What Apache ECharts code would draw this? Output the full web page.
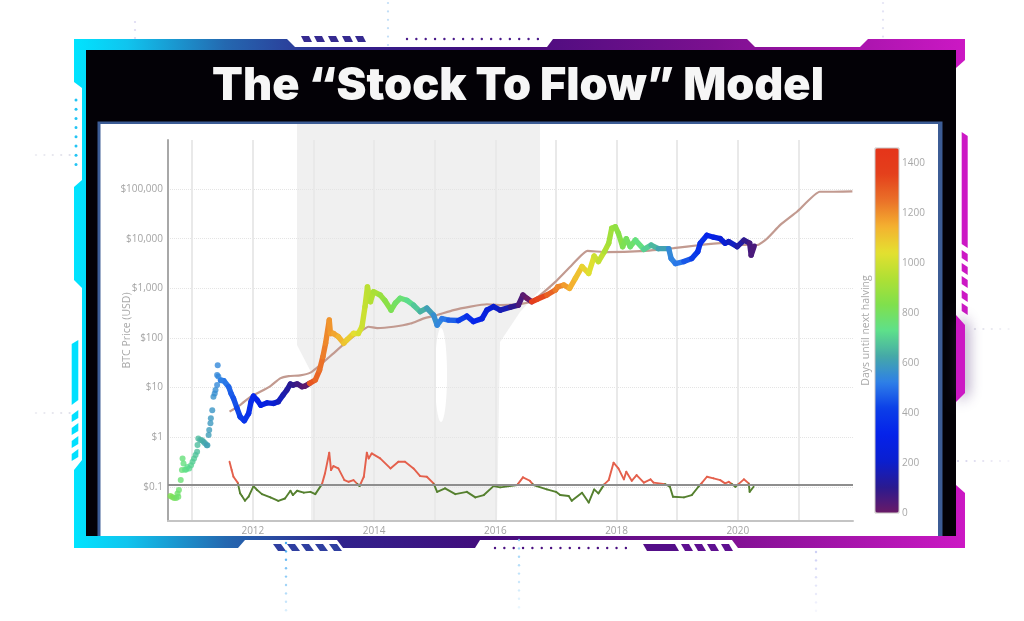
<!DOCTYPE html>
<html>
  <head>
    <meta charset="utf-8" />
    <title>Stock To Flow</title>
    <script src="https://cdn.jsdelivr.net/npm/echarts@6/dist/echarts.min.js"></script>
    <style>
      html, body { margin: 0; padding: 0; background: #fff; }
      #main { width: 1024px; height: 621px; filter: blur(0.45px); }
    </style>
  </head>
  <body>
    <div id="main"></div>
    <script type="text/javascript">
      // early sparse dots of the price
      var earlyYears = [2010.64, 2010.67, 2010.70, 2010.735, 2010.757, 2010.77, 2010.78, 2010.81, 2010.83, 2010.84, 2010.856, 2010.88, 2010.90, 2010.92, 2010.95, 2010.98, 2011.005, 2011.03, 2011.055, 2011.08, 2011.087, 2011.10, 2011.13, 2011.16, 2011.186, 2011.21, 2011.24, 2011.25, 2011.27, 2011.28, 2011.30, 2011.307, 2011.33, 2011.35, 2011.37, 2011.384, 2011.41, 2011.41, 2011.42, 2011.43, 2011.47];
      var earlyPrices = [0.065, 0.062, 0.059, 0.059, 0.0735, 0.063, 0.086, 0.137, 0.217, 0.37, 0.295, 0.22, 0.224, 0.25, 0.234, 0.27, 0.32, 0.37, 0.436, 0.51, 0.693, 0.94, 0.875, 0.87, 0.81, 0.75, 0.69, 0.69, 1.1, 1.39, 1.9, 2.39, 3.5, 6.5, 7.6, 8.9, 11.2, 17.9, 28, 16.6, 14];
      var earlyDays = [829, 818, 807, 795, 787, 782, 778, 767, 760, 756, 749, 741, 734, 727, 716, 705, 696, 687, 677, 668, 665, 661, 650, 639, 630, 621, 610, 606, 599, 595, 588, 585, 577, 570, 562, 557, 548, 548, 544, 541, 526];

      // price after that, thick line
      var priceYears = [2011.47, 2011.52, 2011.60, 2011.64, 2011.68, 2011.74, 2011.79, 2011.86, 2011.93, 2011.97, 2012.01, 2012.07, 2012.13, 2012.23, 2012.34, 2012.42, 2012.50, 2012.56, 2012.62, 2012.66, 2012.73, 2012.81, 2012.86, 2012.935, 2013.03, 2013.10, 2013.155, 2013.20, 2013.26, 2013.28, 2013.33, 2013.41, 2013.50, 2013.55, 2013.66, 2013.74, 2013.80, 2013.85, 2013.89, 2013.94, 2013.99, 2014.10, 2014.18, 2014.28, 2014.35, 2014.43, 2014.54, 2014.65, 2014.76, 2014.87, 2014.98, 2015.04, 2015.12, 2015.23, 2015.39, 2015.53, 2015.64, 2015.78, 2015.86, 2015.97, 2016.08, 2016.25, 2016.38, 2016.455, 2016.52, 2016.60, 2016.69, 2016.85, 2016.99, 2017.03, 2017.13, 2017.225, 2017.32, 2017.43, 2017.54, 2017.63, 2017.70, 2017.80, 2017.87, 2017.92, 2017.98, 2018.03, 2018.10, 2018.16, 2018.225, 2018.31, 2018.45, 2018.57, 2018.69, 2018.86, 2018.90, 2018.97, 2019.11, 2019.24, 2019.34, 2019.38, 2019.49, 2019.60, 2019.71, 2019.79, 2019.85, 2019.99, 2020.10, 2020.195, 2020.22, 2020.27];
      var priceValues = [14, 13.7, 10.4, 7.6, 6.05, 3.8, 2.58, 2.14, 3.0, 5.2, 6.7, 5.6, 4.4, 4.9, 4.8, 5.2, 7.1, 8.9, 11.8, 11.2, 11.8, 10.4, 10.7, 12.1, 14.2, 22.5, 41.8, 78, 229, 123, 123, 106, 78, 91, 123, 123, 169, 427, 1070, 537, 851, 733, 563, 363, 501, 631, 575, 457, 339, 398, 288, 182, 245, 229, 224, 275, 214, 245, 363, 427, 363, 417, 457, 733, 631, 537, 603, 733, 925, 1072, 1167, 1000, 1585, 2729, 1995, 4467, 3467, 5495, 8128, 16218, 17378, 12882, 6918, 10000, 6918, 9333, 6095, 7413, 6310, 6310, 3981, 3162, 3467, 3981, 5495, 8128, 11749, 10715, 10000, 8128, 8710, 6918, 9333, 8128, 4677, 7079];
      var priceDays = [526, 508, 478, 464, 449, 427, 409, 384, 358, 343, 329, 307, 285, 248, 208, 179, 150, 128, 106, 91, 66, 37, 18, 1309, 1275, 1249, 1229, 1213, 1191, 1183, 1165, 1136, 1103, 1085, 1045, 1015, 993, 975, 961, 942, 924, 884, 855, 818, 793, 763, 723, 683, 643, 603, 562, 541, 511, 471, 413, 362, 321, 270, 241, 201, 161, 99, 51, 24, 1, 1373, 1340, 1282, 1231, 1216, 1180, 1145, 1110, 1070, 1030, 997, 972, 935, 909, 891, 869, 851, 825, 804, 780, 749, 698, 654, 610, 548, 533, 508, 457, 409, 373, 358, 318, 278, 237, 208, 186, 135, 95, 60, 51, 33];

      // stock to flow model line
      var modelYears = [2011.615, 2011.79, 2011.96, 2012.12, 2012.29, 2012.45, 2012.59, 2012.78, 2012.95, 2013.11, 2013.33, 2013.55, 2013.77, 2013.91, 2014.05, 2014.32, 2014.60, 2014.82, 2015.04, 2015.31, 2015.59, 2015.86, 2016.08, 2016.38, 2016.58, 2016.74, 2016.99, 2017.24, 2017.52, 2017.84, 2018.39, 2018.94, 2019.38, 2019.71, 2020.04, 2020.32, 2020.48, 2020.70, 2020.98, 2021.35, 2021.58, 2021.89];
      var modelValues = [3.26, 4.44, 6.5, 8.2, 10.7, 15.3, 17, 17.6, 20, 28.4, 49, 84, 134, 168, 158, 168, 195, 248, 289, 364, 427, 477, 460, 482, 537, 733, 1349, 2754, 5661, 5370, 5600, 6457, 7468, 8128, 7468, 7468, 10000, 18970, 35400, 88400, 88400, 90000];

      // price / model ratio at the bottom
      var ratioYears = [2011.615, 2011.65, 2011.68, 2011.75, 2011.79, 2011.82, 2011.87, 2011.93, 2012.01, 2012.07, 2012.15, 2012.29, 2012.42, 2012.53, 2012.62, 2012.66, 2012.73, 2012.84, 2012.95, 2013.03, 2013.14, 2013.19, 2013.26, 2013.29, 2013.33, 2013.41, 2013.51, 2013.58, 2013.66, 2013.76, 2013.83, 2013.88, 2013.91, 2013.96, 2014.10, 2014.27, 2014.40, 2014.51, 2014.65, 2014.76, 2014.87, 2014.98, 2015.04, 2015.17, 2015.34, 2015.53, 2015.67, 2015.81, 2015.97, 2016.08, 2016.36, 2016.455, 2016.57, 2016.63, 2016.85, 2017.00, 2017.07, 2017.21, 2017.26, 2017.43, 2017.54, 2017.63, 2017.70, 2017.80, 2017.87, 2017.95, 2018.03, 2018.12, 2018.16, 2018.25, 2018.33, 2018.45, 2018.56, 2018.61, 2018.80, 2018.88, 2018.93, 2019.11, 2019.24, 2019.35, 2019.41, 2019.49, 2019.60, 2019.71, 2019.79, 2019.85, 2019.96, 2020.10, 2020.18, 2020.195, 2020.26];
      var ratioValues = [0.32, 0.217, 0.159, 0.121, 0.0735, 0.065, 0.0524, 0.063, 0.103, 0.086, 0.071, 0.061, 0.052, 0.058, 0.083, 0.068, 0.083, 0.076, 0.079, 0.071, 0.113, 0.186, 0.486, 0.217, 0.261, 0.234, 0.136, 0.126, 0.136, 0.103, 0.159, 0.486, 0.373, 0.47, 0.373, 0.234, 0.32, 0.32, 0.234, 0.164, 0.159, 0.117, 0.079, 0.093, 0.071, 0.079, 0.061, 0.068, 0.103, 0.097, 0.108, 0.155, 0.132, 0.108, 0.0885, 0.079, 0.068, 0.065, 0.052, 0.076, 0.048, 0.0885, 0.0735, 0.113, 0.136, 0.305, 0.234, 0.141, 0.201, 0.132, 0.172, 0.121, 0.141, 0.121, 0.113, 0.1, 0.063, 0.061, 0.068, 0.1, 0.121, 0.159, 0.148, 0.136, 0.117, 0.126, 0.1, 0.141, 0.117, 0.079, 0.1];
      var ratioLevel = 0.113;

      var yearGridLines = [2011, 2012, 2013, 2014, 2015, 2016, 2017, 2018, 2019, 2020, 2021];
      var yearLabels = [2012, 2014, 2016, 2018, 2020];
      var priceTicks = [0.1, 1, 10, 100, 1000, 10000, 100000];
      var priceTickLabels = ["$0.1", "$1", "$10", "$100", "$1,000", "$10,000", "$100,000"];
      var daysColors = ["#6a1a66", "#2a1a90", "#0a1fd0", "#0522ea", "#0b3ee8", "#2e7fe8", "#45a8a8", "#5ee08a", "#80e04c", "#b0e034", "#e4e030", "#f4b030", "#ea7028", "#e4401c", "#e5341a"];

      function triples(xs, ys, ds) {
        return xs.map(function (x, i) { return [x, ys[i], ds[i]]; });
      }
      function pairs(xs, ys) {
        return xs.map(function (x, i) { return [x, ys[i]]; });
      }

      // frame around the picture
      var deco = [];
      function poly(points, fill, z, extra) {
        var style = { fill: fill };
        for (var k in extra || {}) style[k] = extra[k];
        deco.push({ type: "polygon", silent: true, z: z, shape: { points: points }, style: style });
      }
      function rect(x, y, w, h, fill, z) {
        deco.push({ type: "rect", silent: true, z: z, shape: { x: x, y: y, width: w, height: h }, style: { fill: fill } });
      }
      function dot(x, y, r, fill, op) {
        deco.push({ type: "circle", silent: true, z: -20, shape: { cx: x, cy: y, r: r }, style: { fill: fill, opacity: op } });
      }
      var frameFill = {
        type: "linear", x: 0, y: 0, x2: 1, y2: 0,
        colorStops: [
          { offset: 0, color: "#00e4ff" },
          { offset: 0.06, color: "#10c4ee" },
          { offset: 0.17, color: "#2468b0" },
          { offset: 0.3, color: "#30228c" },
          { offset: 0.47, color: "#440c7c" },
          { offset: 0.72, color: "#7c1090" },
          { offset: 1, color: "#cc18c4" },
        ],
      };
      poly([[74, 39], [287, 39], [295, 47], [547, 47], [553, 39], [747, 39], [755, 47], [860, 47], [868, 39], [965, 39], [965, 60], [956, 68], [956, 485], [965, 493], [965, 548], [738, 548], [732, 540], [480, 540], [475, 548], [343, 548], [337, 540], [245, 540], [238, 548], [74, 548], [74, 470], [82, 460], [82, 288], [74, 280], [74, 187], [82, 180], [82, 88], [74, 82]], frameFill, -20);
      rect(86, 50, 870, 486, "#030106", -19);
      rect(97.5, 121.5, 845, 414.5, "#3c5c95", -18);
      rect(100.5, 124, 837.5, 412, "#ffffff", -17);

      // grey patch behind the middle of the plot
      poly([[297, 124], [540, 124], [540, 290], [520, 312], [500, 342], [497, 521], [311, 521], [311, 372], [297, 345]], "#f0f0f0", -12);
      deco.push({ type: "ellipse", silent: true, z: -11, shape: { cx: 441, cy: 375, rx: 6, ry: 47 }, style: { fill: "#ffffff" } });

      // left strip and stripes
      poly([[71.7, 344], [78.3, 340], [78.3, 400], [71.7, 405]], "#00e0ff", -20);
      [410, 423, 436, 449].forEach(function (y) {
        poly([[71.7, y + 5], [78.3, y], [78.3, y + 8], [71.7, y + 12]], "#00e0ff", -20);
      });
      // right strip and stripes
      poly([[961.7, 132], [967.7, 136], [967.7, 248], [961.7, 244]], "#cc18c4", -20);
      [250, 263, 276, 290, 303].forEach(function (y) {
        poly([[961.7, y], [967.7, y + 4], [967.7, y + 12], [961.7, y + 8]], "#cc18c4", -20);
      });
      poly([[956, 315], [965, 325], [965, 393], [956, 402]], "#cc18c4", -19, { shadowColor: "rgba(80,50,120,0.55)", shadowBlur: 14, shadowOffsetX: 3 });

      // stripes above and below the frame
      [301, 314, 328, 342, 355].forEach(function (x) {
        poly([[x, 36], [x + 8, 36], [x + 11, 42], [x + 3, 42]], "#352a90", -20);
      });
      [273, 287, 301, 315, 329].forEach(function (x) {
        poly([[x, 544], [x + 8, 544], [x + 13, 551], [x + 5, 551]], "#2f3fa0", -20);
      });
      poly([[643, 544], [675, 544], [679, 551], [647, 551]], "#540e88", -20);
      [681, 694, 707, 721].forEach(function (x) {
        poly([[x, 544], [x + 8, 544], [x + 12, 551], [x + 4, 551]], "#5e1090", -20);
      });

      // dotted lines
      var i;
      for (i = 0; i < 15; i++) dot(407 + i * 9.35, 39, 1.2, "#4a1a8a", 1);
      for (i = 0; i < 15; i++) dot(495 + i * 9.35, 548, 1.2, "#4a0f80", 1);
      for (i = 0; i < 8; i++) dot(76, 100 + i * 9.2, 1.5, "#22c4f4", 1);
      for (i = 0; i < 9; i++) dot(286, 543 + i * 8.4, 1.2, "#2fa0f0", 0.9 - i * 0.09);
      for (i = 0; i < 9; i++) dot(519, 540 + i * 8.4, 1.2, "#7cc4f4", 0.8 - i * 0.08);
      for (i = 0; i < 8; i++) dot(816, 552 + i * 8.4, 1.2, "#b8bcf0", 0.7 - i * 0.08);
      for (i = 0; i < 3; i++) dot(135, 22 + i * 8, 1.1, "#c4c0e8", 0.6);
      for (i = 0; i < 6; i++) dot(388, 3 + i * 8.4, 1.1, "#a8d0f4", 0.7);
      for (i = 0; i < 5; i++) dot(883, 3 + i * 8.4, 1.1, "#d0d0ec", 0.6);
      for (i = 0; i < 5; i++) dot(36 + i * 8.4, 155, 1.1, "#d8d8e4", 0.5 + i * 0.08);
      for (i = 0; i < 5; i++) dot(36 + i * 8.4, 413, 1.1, "#d8d8e4", 0.5 + i * 0.08);
      for (i = 0; i < 5; i++) dot(975 + i * 8.4, 329, 1.1, "#d0d0e0", 0.7 - i * 0.1);
      for (i = 0; i < 7; i++) dot(958 + i * 8.4, 461, 1.1, "#c8c4e4", 0.8 - i * 0.1);
      // thin outline of the colour bar
      deco.push({ type: "rect", silent: true, z: 20, shape: { x: 875, y: 148, width: 24, height: 365 }, style: { fill: "none", stroke: "#c8c4c4", lineWidth: 1 } });

      var option = {
        animation: false,
        backgroundColor: "#ffffff",
        title: {
          text: "The \u201cStock To Flow\u201d Model",
          left: 513,
          top: 59,
          textAlign: "center",
          textStyle: { color: "#f6f6f6", fontFamily: "Inter", fontWeight: 900, fontSize: 45 },
        },
        graphic: { elements: deco },
        grid: [
          { left: 168, right: 171, top: 140, bottom: 100, containLabel: false },
          { left: 875, width: 24, top: 148, height: 365 },
        ],
        xAxis: [
          {
            type: "value", gridIndex: 0, min: 2010.6, max: 2021.9,
            axisLine: { onZero: false, lineStyle: { color: "#c4c4c4", width: 2 } },
            axisTick: { show: false, customValues: yearGridLines },
            axisLabel: { customValues: yearLabels, color: "#a4a4a4", fontSize: 10, margin: 5, fontFamily: "Open Sans", formatter: function (v) { return String(v); } },
            splitLine: { show: true, lineStyle: { color: "#e9e9e9", width: 2 } },
          },
          { type: "value", gridIndex: 1, min: 0, max: 1, show: false },
        ],
        yAxis: [
          {
            type: "log", gridIndex: 0, min: 0.0204, max: 977000, logBase: 10,
            name: "BTC Price (USD)", nameLocation: "middle", nameGap: 35, nameMoveOverlap: false,
            nameTextStyle: { color: "#a8a8a8", fontSize: 10.5, fontFamily: "Open Sans" },
            axisLine: { show: true, onZero: false, lineStyle: { color: "#a8a8a8", width: 2 } },
            axisTick: { show: false, customValues: priceTicks },
            axisLabel: {
              customValues: priceTicks, color: "#a4a4a4", fontSize: 10, margin: 5, fontFamily: "Open Sans",
              formatter: function (v) { return priceTickLabels[priceTicks.indexOf(v)] || ""; },
            },
            splitLine: { show: true, lineStyle: { color: "#e4e4e4", width: 1, type: "dotted" } },
          },
          {
            type: "value", gridIndex: 1, min: 0, max: 1460, interval: 200, position: "right",
            axisLine: { show: false }, axisTick: { show: false }, splitLine: { show: false },
            axisLabel: { color: "#a8a8a8", fontSize: 10, margin: 3, fontFamily: "Open Sans", showMaxLabel: false, formatter: function (v) { return v > 1400 ? "" : String(v); } },
          },
          {
            type: "value", gridIndex: 1, min: 0, max: 1460, position: "left",
            axisLine: { show: false }, axisTick: { show: false }, splitLine: { show: false }, axisLabel: { show: false },
            name: "Days until next halving", nameLocation: "middle", nameGap: 3, nameMoveOverlap: false,
            nameTextStyle: { color: "#a8a8a8", fontSize: 10.5, fontFamily: "Open Sans" },
          },
        ],
        visualMap: [
          {
            type: "continuous", seriesIndex: [1, 2], dimension: 2, min: 0, max: 1460,
            left: 875, top: 148, itemWidth: 24, itemHeight: 365, padding: 0,
            text: null, showLabel: false, calculable: false, realtime: false, hoverLink: false,
            inRange: { color: daysColors }, textStyle: { color: "transparent", fontSize: 1 },
          },
        ],
        series: [
          {
            name: "Model", type: "line", xAxisIndex: 0, yAxisIndex: 0, z: 3, smooth: 0.15, showSymbol: false,
            data: pairs(modelYears, modelValues),
            lineStyle: { color: "#c29a90", width: 2.2 },
            markLine: {
              silent: true, symbol: "none", label: { show: false },
              lineStyle: { color: "#8e8e8e", width: 2, type: "solid" },
              data: [{ yAxis: ratioLevel }],
            },
          },
          {
            name: "Price early", type: "scatter", xAxisIndex: 0, yAxisIndex: 0, z: 4, symbolSize: 6,
            data: triples(earlyYears, earlyPrices, earlyDays),
          },
          {
            name: "Price", type: "custom", xAxisIndex: 0, yAxisIndex: 0, z: 4,
            data: triples(priceYears, priceValues, priceDays),
            encode: { x: 0, y: 1 },
            renderItem: function (params, api) {
              var n = params.dataIndex;
              if (n >= priceYears.length - 1) return null;
              var a = api.coord([api.value(0), api.value(1)]);
              var b = api.coord([priceYears[n + 1], priceValues[n + 1]]);
              return {
                type: "line",
                shape: { x1: a[0], y1: a[1], x2: b[0], y2: b[1] },
                style: { stroke: api.visual("color"), lineWidth: 5.4, lineCap: "round" },
              };
            },
          },
          {
            name: "Ratio", type: "custom", xAxisIndex: 0, yAxisIndex: 0, z: 3,
            data: pairs(ratioYears, ratioValues),
            encode: { x: 0, y: 1 },
            renderItem: function (params, api) {
              var n = params.dataIndex;
              if (n >= ratioYears.length - 1) return null;
              var a = api.coord([api.value(0), api.value(1)]);
              var b = api.coord([ratioYears[n + 1], ratioValues[n + 1]]);
              var level = api.coord([api.value(0), ratioLevel])[1];
              function piece(p, q) {
                return {
                  type: "line",
                  shape: { x1: p[0], y1: p[1], x2: q[0], y2: q[1] },
                  style: { stroke: (p[1] + q[1]) / 2 < level ? "#e4604c" : "#55802f", lineWidth: 1.9, lineCap: "round" },
                };
              }
              if ((a[1] - level) * (b[1] - level) < 0) {
                var t = (level - a[1]) / (b[1] - a[1]);
                var m = [a[0] + (b[0] - a[0]) * t, level];
                return { type: "group", children: [piece(a, m), piece(m, b)] };
              }
              return piece(a, b);
            },
          },
        ],
      };
      var chart = echarts.init(document.getElementById("main"));
      chart.setOption(option);
    </script>
  </body>
</html>
